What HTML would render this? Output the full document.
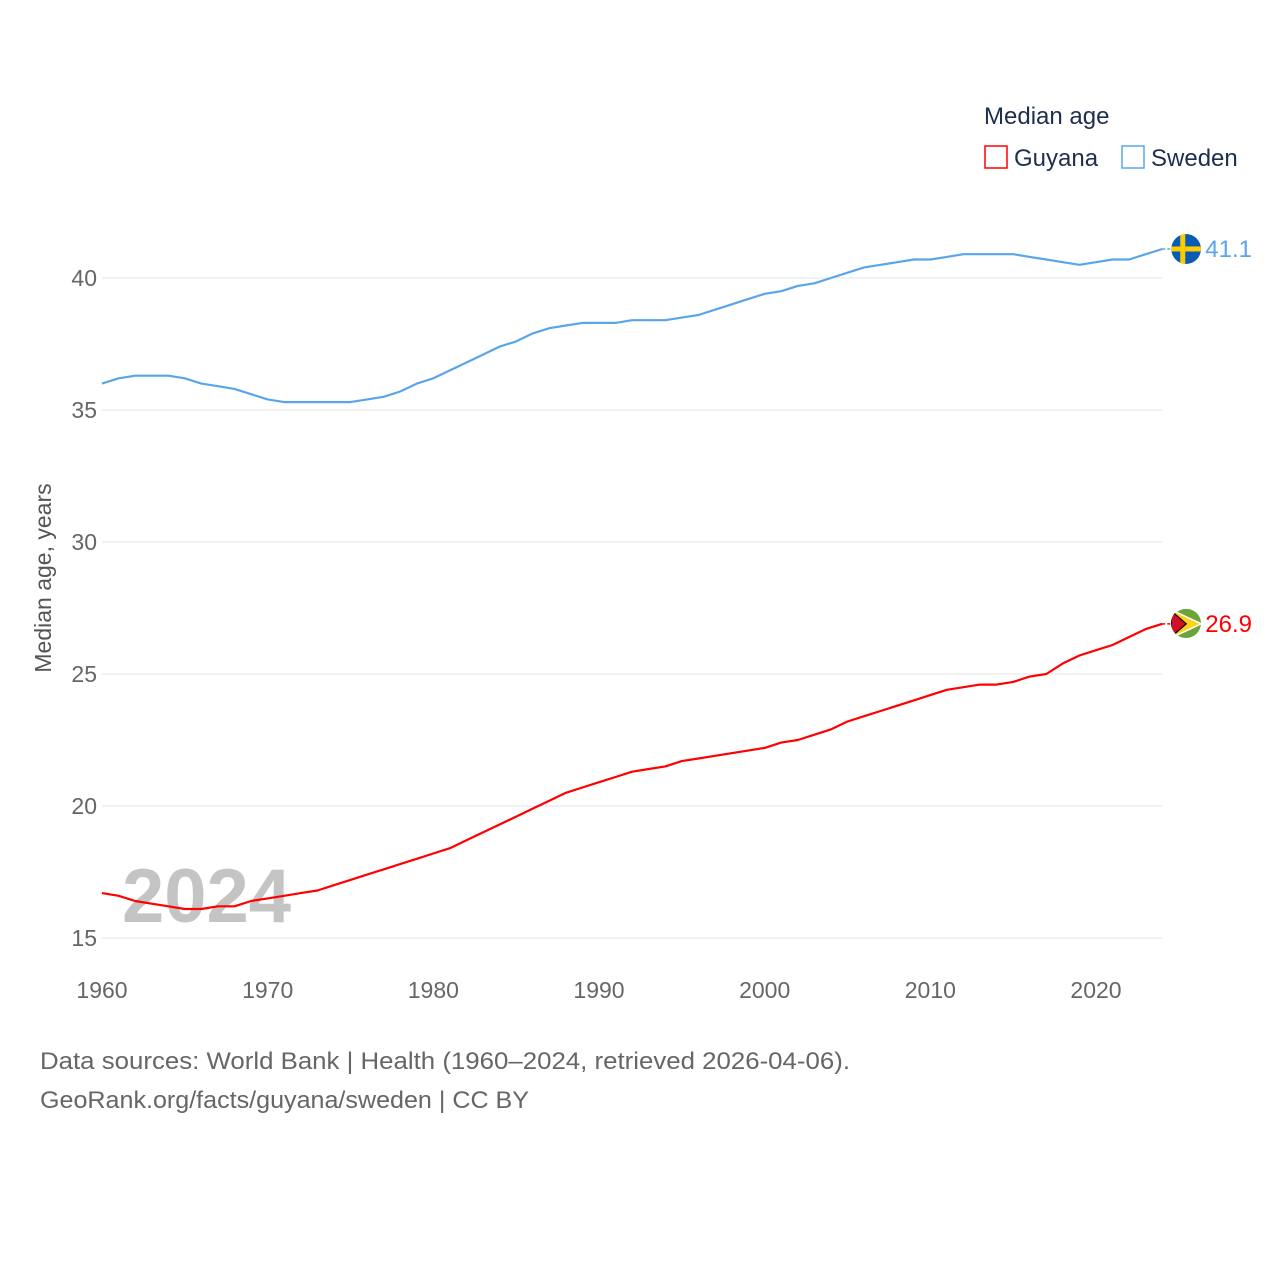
<!DOCTYPE html>
<html><head><meta charset="utf-8">
<style>
html,body{margin:0;padding:0;background:#fff;}
body{width:1280px;height:1280px;overflow:hidden;font-family:"Liberation Sans",sans-serif;}
svg text{font-family:"Liberation Sans",sans-serif;}
</style></head>
<body>
<svg id="chart" width="1280" height="1280" viewBox="0 0 1280 1280" xmlns="http://www.w3.org/2000/svg">
  <defs>
    <clipPath id="clipSE"><circle cx="1186" cy="249" r="15"/></clipPath>
    <clipPath id="clipGY"><circle cx="1186" cy="623" r="15"/></clipPath>
  </defs>
  <g id="grid"></g>
  <g id="yticks"></g>
  <g id="xticks"></g>
  <text x="122" y="922" font-size="76" font-weight="bold" fill="#c4c4c4">2024</text>
  <g id="lines"></g>
  <text transform="translate(51,578) rotate(-90)" text-anchor="middle" font-size="23" fill="#555">Median age, years</text>
  <g>
    <text x="984" y="124" font-size="24" fill="#1d2e4e">Median age</text>
    <g>
      <rect x="985" y="146" width="22" height="22" fill="none" stroke="#ff0000" stroke-width="1.5"/>
      <text x="1014" y="166" font-size="24" fill="#1d2e4e">Guyana</text>
    </g>
    <g>
      <rect x="1122" y="146" width="22" height="22" fill="none" stroke="#5aa5ea" stroke-width="1.5"/>
      <text x="1151" y="166" font-size="24" fill="#1d2e4e">Sweden</text>
    </g>
  </g>
  <g id="ends"></g>
  <text x="40" y="1069" font-size="24" fill="#666" textLength="810" lengthAdjust="spacingAndGlyphs">Data sources: World Bank | Health (1960–2024, retrieved 2026-04-06).</text>
  <text x="40" y="1108" font-size="24" fill="#666" textLength="489" lengthAdjust="spacingAndGlyphs">GeoRank.org/facts/guyana/sweden | CC BY</text>
</svg>
<script>
const years = Array.from({length:65},(_,i)=>1960+i);
const sweden = [36.0,36.2,36.3,36.3,36.3,36.2,36.0,35.9,35.8,35.6,35.4,35.3,35.3,35.3,35.3,35.3,35.4,35.5,35.7,36.0,36.2,36.5,36.8,37.1,37.4,37.6,37.9,38.1,38.2,38.3,38.3,38.3,38.4,38.4,38.4,38.5,38.6,38.8,39.0,39.2,39.4,39.5,39.7,39.8,40.0,40.2,40.4,40.5,40.6,40.7,40.7,40.8,40.9,40.9,40.9,40.9,40.8,40.7,40.6,40.5,40.6,40.7,40.7,40.9,41.1];
const guyana = [16.7,16.6,16.4,16.3,16.2,16.1,16.1,16.2,16.2,16.4,16.5,16.6,16.7,16.8,17.0,17.2,17.4,17.6,17.8,18.0,18.2,18.4,18.7,19.0,19.3,19.6,19.9,20.2,20.5,20.7,20.9,21.1,21.3,21.4,21.5,21.7,21.8,21.9,22.0,22.1,22.2,22.4,22.5,22.7,22.9,23.2,23.4,23.6,23.8,24.0,24.2,24.4,24.5,24.6,24.6,24.7,24.9,25.0,25.4,25.7,25.9,26.1,26.4,26.7,26.9];
const yTicks = [15,20,25,30,35,40];
const xTicks = [1960,1970,1980,1990,2000,2010,2020];

const NS="http://www.w3.org/2000/svg";
const xS = y => 102 + (y-1960)*(994/60);
const yS = v => 938 - (v-15)*26.4;
function mk(tag, attrs, parent){const e=document.createElementNS(NS,tag);for(const k in attrs)e.setAttribute(k,attrs[k]);parent.appendChild(e);return e;}

const grid=document.getElementById('grid'), yt=document.getElementById('yticks'), xt=document.getElementById('xticks');
yTicks.forEach(v=>{
  const l=mk('line',{x1:102,x2:1162,y1:yS(v),y2:yS(v),stroke:'#e6e6e6','stroke-width':1},grid);
  
  
  const t=mk('text',{x:97,y:yS(v)+8,'text-anchor':'end','font-size':23,fill:'#666'},yt);
  t.textContent=v;
  
  
});
xTicks.forEach(y=>{
  const t=mk('text',{x:xS(y),y:998,'text-anchor':'middle','font-size':23,fill:'#666'},xt);
  t.textContent=y;
  
  
});
const lines=document.getElementById('lines');
function drawLine(vals,color,name){
  const d=vals.map((v,i)=>(i?'L':'M')+xS(years[i]).toFixed(1)+','+yS(v).toFixed(1)).join('');
  const p=mk('path',{d:d,fill:'none',stroke:color,'stroke-width':2.2,'stroke-linejoin':'round'},lines);
  
  
}
drawLine(sweden,'#5aa5ea','sweden-line');
drawLine(guyana,'#ff0000','guyana-line');

const ends=document.getElementById('ends');
function endLabel(vals,color,name,clip,flag){
  const v=vals[vals.length-1], x=xS(years[years.length-1]), y=yS(v), cx=x+24;
  mk('line',{x1:x,x2:cx-14,y1:y,y2:y,stroke:color,'stroke-width':1.5,'stroke-dasharray':'3,2'},ends);
  const g=mk('g',{'clip-path':'url(#'+clip+')'},ends);
  
  
  flag(g,cx,y);
  const t=mk('text',{x:cx+19,y:y+8,'font-size':24,fill:color},ends);
  t.textContent=v.toFixed(1);
  
  
}
endLabel(sweden,'#5aa5ea','sweden','clipSE',(g,cx,cy)=>{
  mk('circle',{cx:cx,cy:cy,r:15,fill:'#0a5bb4'},g);
  mk('rect',{x:cx-15,y:cy-2.5,width:30,height:5,fill:'#fecc00'},g);
  mk('rect',{x:cx-6,y:cy-15,width:5,height:30,fill:'#fecc00'},g);
});
endLabel(guyana,'#ff0000','guyana','clipGY',(g,cx,cy)=>{
  mk('circle',{cx:cx,cy:cy,r:15,fill:'#6ba43a'},g);
  mk('path',{d:`M${cx-15},${cy-14} L${cx+15},${cy} L${cx-15},${cy+14}Z`,fill:'#fcd116',stroke:'#fff','stroke-width':1.5},g);
  mk('path',{d:`M${cx-15},${cy-13} L${cx},${cy} L${cx-15},${cy+13}Z`,fill:'#ce1126',stroke:'#000','stroke-width':1.2},g);
});
</script>
</body></html>
